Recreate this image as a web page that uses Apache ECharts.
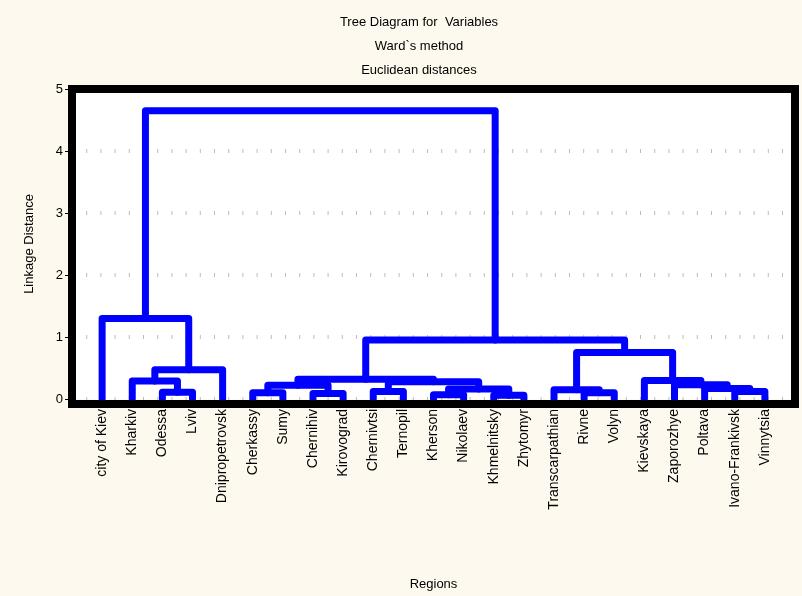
<!DOCTYPE html>
<html><head><meta charset="utf-8">
<script src="https://cdn.jsdelivr.net/npm/echarts@6/dist/echarts.min.js"></script>
<style>html,body{margin:0;padding:0;background:#fdf9ef;} #c{width:802px;height:596px;}</style>
</head><body><div id="c"></div>
<script>
// ---- data ----
const titleLines = ['Tree Diagram for  Variables', 'Ward`s method', 'Euclidean distances'];
const xAxisTitle = 'Regions';
const yAxisTitle = 'Linkage Distance';
const regions = ['city of Kiev','Kharkiv','Odessa','Lviv','Dnipropetrovsk','Cherkassy','Sumy','Chernihiv',
  'Kirovograd','Chernivtsi','Ternopil','Kherson','Nikolaev','Khmelnitsky','Zhytomyr','Transcarpathian',
  'Rivne','Volyn','Kievskaya','Zaporozhye','Poltava','Ivano-Frankivsk','Vinnytsia'];
// merges: node ids 0..22 are leaves (regions), merge k creates node 23+k
const mergeLeft   = [13, 11, 7, 5, 16, 2, 21, 9, 15, 24, 20, 26, 19, 30, 1, 18, 34, 37, 31, 39, 0, 43];
const mergeRight  = [14, 12, 8, 6, 17, 3, 22, 10, 27, 23, 29, 25, 33, 32, 28, 35, 36, 4, 38, 41, 40, 42];
const mergeHeight = [0.06,0.07,0.09,0.10,0.10,0.11,0.12,0.12,0.15,0.16,0.17,0.22,0.23,0.28,0.29,0.30,0.32,0.47,0.75,0.95,1.30,4.65];
const yTicks = [0, 1, 2, 3, 4, 5];

// ---- layout ----
const G = {left: 72, top: 89, right: 7, bottom: 192};
const W = 802, H = 596;

// build node positions in data space
const nLeaf = regions.length;
const nodeX = regions.map((_, i) => i + 1);
const nodeY = regions.map(() => 0);
const links = [];
mergeLeft.forEach((l, k) => {
  const r = mergeRight[k], h = mergeHeight[k];
  links.push({coords: [[nodeX[l], nodeY[l]], [nodeX[l], h], [nodeX[r], h], [nodeX[r], nodeY[r]]]});
  nodeX.push((nodeX[l] + nodeX[r]) / 2);
  nodeY.push(h);
});

const font = 'Liberation Sans, Arial, sans-serif';
const chart = echarts.init(document.getElementById('c'), null, {renderer: 'canvas'});
chart.setOption({
  backgroundColor: '#fdf9ef',
  animation: false,
  textStyle: {fontFamily: font},
  title: titleLines.map((t, i) => ({
    text: t, left: 414, top: 11 + i * 24, textAlign: 'center',
    textStyle: {fontSize: 13, fontWeight: 'normal', color: '#000', fontFamily: font}
  })),
  grid: {left: G.left, top: G.top, right: G.right, bottom: G.bottom, show: true,
         backgroundColor: '#ffffff', borderWidth: 0},
  xAxis: {
    type: 'value', min: 0, max: nLeaf + 1, interval: 1,
    name: xAxisTitle, nameLocation: 'middle', nameGap: 179,
    nameTextStyle: {fontSize: 13, color: '#000', fontFamily: font},
    axisLine: {show: false}, axisTick: {show: false}, splitLine: {show: false},
    axisLabel: {rotate: 90, margin: 10, fontSize: 14, color: '#000', fontFamily: font,
      formatter: v => regions[v - 1] || ''}
  },
  yAxis: {
    type: 'value', min: yTicks[0], max: yTicks[yTicks.length - 1], interval: 1,
    name: yAxisTitle, nameLocation: 'middle', nameGap: 36,
    nameTextStyle: {fontSize: 13, color: '#000', fontFamily: font},
    axisLine: {show: false},
    axisTick: {show: true, length: 7, lineStyle: {color: '#000', width: 1}},
    axisLabel: {margin: 9, fontSize: 13, color: '#000', fontFamily: font},
    splitLine: {show: true, lineStyle: {color: '#bdbdbd', width: 4, type: [1, 13.2]}}
  },
  series: [{
    type: 'lines', coordinateSystem: 'cartesian2d', polyline: true, clip: true,
    lineStyle: {color: '#0000ff', width: 7, opacity: 1, curveness: 0, cap: 'round', join: 'round'},
    data: links, z: 3
  }],
  graphic: [{
    type: 'rect', z: 100, silent: true,
    shape: {x: G.left, y: G.top, width: W - G.left - G.right, height: H - G.top - G.bottom},
    style: {fill: 'none', stroke: '#000', lineWidth: 8}
  }]
});
</script></body></html>
